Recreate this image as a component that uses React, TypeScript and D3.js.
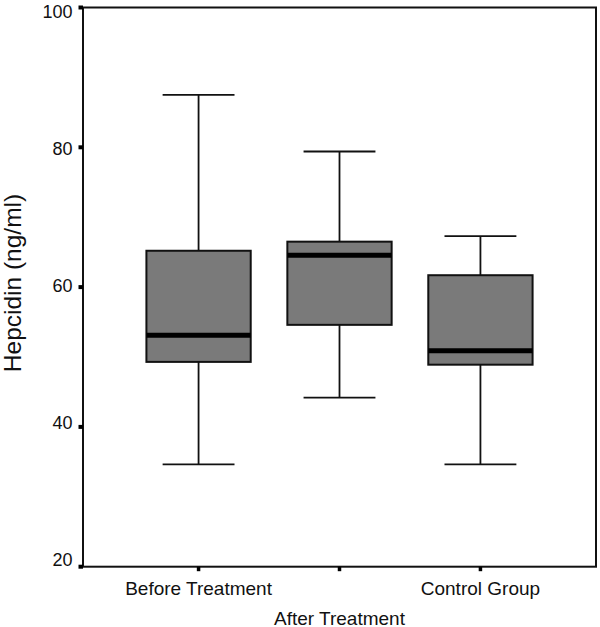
import React from "react";
import * as d3 from "d3";

const categories = ["Before Treatment", "After Treatment", "Control Group"];
const whiskerLow = [34.65, 44.2, 34.65];
const q1 = [49.3, 54.6, 48.9];
const medians = [53.1, 64.55, 50.9];
const q3 = [65.2, 66.5, 61.7];
const whiskerHigh = [87.5, 79.4, 67.3];
const yTicks = [20, 40, 60, 80, 100];
const yTitle = "Hepcidin (ng/ml)";

const W = 600;
const H = 627;
const left = 83;
const right = 596;
const top = 7.5;
const bottom = 566.7;

export default function App() {
  const x = d3.scalePoint<string>().domain(categories).range([left, right]).padding(0.82);
  const y = d3.scaleLinear().domain([20, 100]).range([bottom, top]);
  // tick labels sit slightly inward of their ticks, as in the reference
  const yLabel = d3.scaleLinear().domain([20, 100]).range([560, 11.5]);
  const step = x.step();
  const boxW = step * 0.74;
  const capW = step * 0.51;
  const font = "Liberation Sans, Arial, sans-serif";

  return (
    <svg width={W} height={H} style={{ position: "absolute", left: 0, top: 0, background: "#fff" }} fontFamily={font}>
      <rect x={0} y={0} width={W} height={H} fill="#fff" />
      {categories.map((c, i) => {
        const cx = x(c)!;
        return (
          <g key={c}>
            <line x1={cx} x2={cx} y1={y(whiskerHigh[i])} y2={y(q3[i])} stroke="#111" strokeWidth={1.8} />
            <line x1={cx} x2={cx} y1={y(q1[i])} y2={y(whiskerLow[i])} stroke="#111" strokeWidth={1.8} />
            <line x1={cx - capW / 2} x2={cx + capW / 2} y1={y(whiskerHigh[i])} y2={y(whiskerHigh[i])} stroke="#111" strokeWidth={1.8} />
            <line x1={cx - capW / 2} x2={cx + capW / 2} y1={y(whiskerLow[i])} y2={y(whiskerLow[i])} stroke="#111" strokeWidth={1.8} />
            <rect x={cx - boxW / 2} y={y(q3[i])} width={boxW} height={y(q1[i]) - y(q3[i])} fill="#7a7a7a" stroke="#111" strokeWidth={2} />
            <line x1={cx - boxW / 2} x2={cx + boxW / 2} y1={y(medians[i])} y2={y(medians[i])} stroke="#000" strokeWidth={5} />
          </g>
        );
      })}
      <rect x={left} y={top} width={right - left} height={bottom - top} fill="none" stroke="#111" strokeWidth={2} />
      {yTicks.map((t) => (
        <g key={t}>
          <line x1={left - 4.5} x2={left} y1={y(t)} y2={y(t)} stroke="#000" strokeWidth={4} />
          <text x={72.5} y={yLabel(t)} dy="0.36em" textAnchor="end" fontSize={18} fill="#111">{t}</text>
        </g>
      ))}
      {categories.map((c, i) => (
        <g key={c}>
          <line x1={x(c)!} x2={x(c)!} y1={bottom} y2={bottom + 4.5} stroke="#000" strokeWidth={3.5} />
          <text x={x(c)!} y={i === 1 ? 624.5 : 595} textAnchor="middle" fontSize={19} fill="#111">{c}</text>
        </g>
      ))}
      <text transform={`translate(21, 283) rotate(-90)`} textAnchor="middle" fontSize={24.5} fill="#111">{yTitle}</text>
    </svg>
  );
}
